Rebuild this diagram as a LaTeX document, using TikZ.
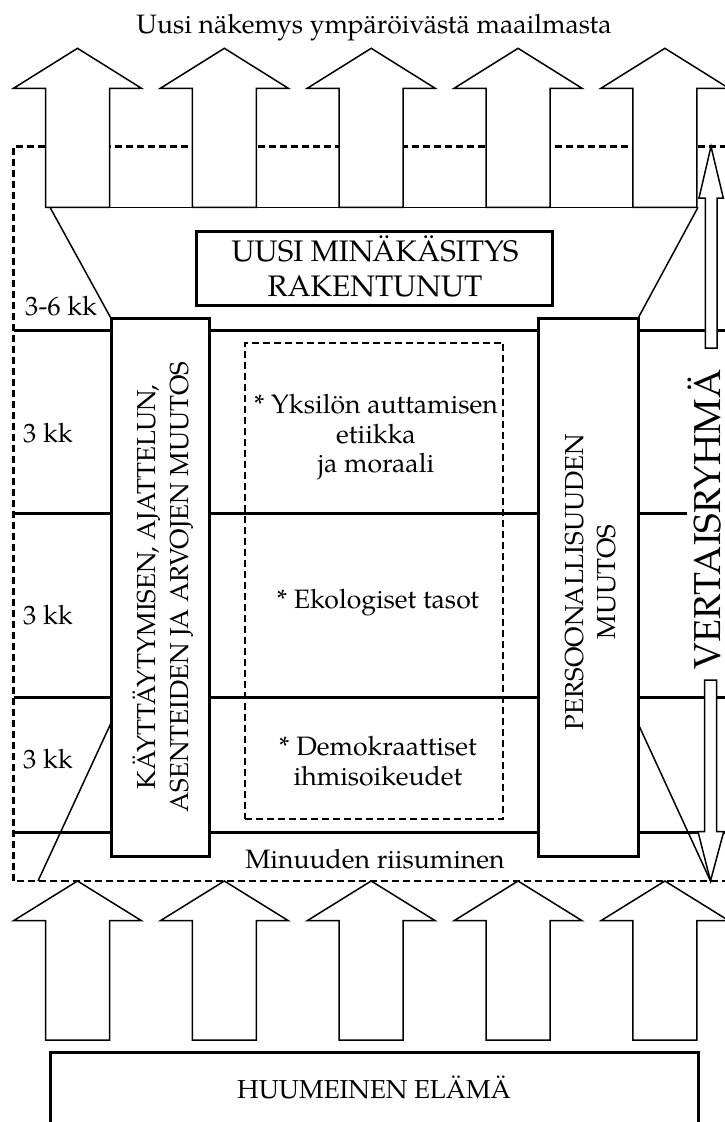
\documentclass[tikz,border=0pt]{standalone}
\usepackage{fontspec}
\IfFontExistsTF{TeX Gyre Pagella}{%
  \setmainfont{TeX Gyre Pagella}%
  \newcommand\szbody{26.6}\newcommand\szcap{26}\newcommand\szbig{29.7}\newcommand\szv{37.5}%
}{%
  \setmainfont{Liberation Serif}%
  \newcommand\szbody{28.5}\newcommand\szcap{27.5}\newcommand\szbig{30.8}\newcommand\szv{37}%
}
\usetikzlibrary{fit}
\tikzset{
  thickln/.style={line width=3pt},
  thinln/.style={line width=1.5pt},
  dashln/.style={line width=2.2pt, dash pattern=on 7pt off 4pt},
  boxst/.style={draw, line width=3pt, fill=white, inner sep=0pt},
  txt/.style={font=\fontsize{\szbody}{31}\selectfont, inner sep=0pt},
  captxt/.style={font=\fontsize{\szcap}{31}\selectfont, inner sep=0pt},
  bigtxt/.style={font=\fontsize{\szbig}{35}\selectfont, inner sep=0pt},
  vtxt/.style={font=\fontsize{\szv}{42}\selectfont, inner sep=0pt},
  bigarrow/.style={thinln, fill=white},
}
\begin{document}
\begin{tikzpicture}[x=1pt,y=-1pt,line join=miter]
\useasboundingbox (0,0) rectangle (725,1122);
\clip (0,0) rectangle (725,1122);

% outer dashed frame
\draw[dashln] (760,146.5) -- (13.5,146.5) -- (13.5,881) -- (760,881);

% time band lines
\draw[thickln] (13.5,330) -- (760,330);
\draw[thickln] (13.5,513.5) -- (687,513.5);
\draw[thickln] (13.5,697) -- (760,697);
\draw[thickln] (13.5,832.5) -- (760,832.5);

% coordinates for funnels
\coordinate (ftl) at (50,207.3);
\coordinate (ftr) at (698,207.3);
\coordinate (lbtl) at (111,318.3);
\coordinate (lbbr) at (209,856.7);
\coordinate (rbtl) at (538.5,318.3);
\coordinate (rbbr) at (638,856.7);
\coordinate (lbl) at (111,723);
\coordinate (rbl) at (638,723.5);
\coordinate (fbl) at (38,881);
\coordinate (fbr) at (710.5,881);

% upper funnel
\draw[thinln] (45,207.3) -- (ftr);
\draw[thinln] (ftl) -- (lbtl);
\draw[thinln] (ftr) -- (rbtl -| rbbr);
% lower funnel
\draw[thinln] (fbl) -- (lbl);
\draw[thinln] (rbl) -- (fbr);

% big arrows
\foreach \i in {0,...,4}{
  \pgfmathsetmacro\cx{77.5+146.85*\i}
  \draw[bigarrow] ({\cx-32},207.3) -- ({\cx-32},88.3) -- ({\cx-64},88.3) -- (\cx,48.3)
     -- ({\cx+64},88.3) -- ({\cx+32},88.3) -- ({\cx+32},207.3) -- cycle;
  \draw[bigarrow] ({\cx-32},1040) -- ({\cx-32},920.7) -- ({\cx-64},920.7) -- (\cx,881)
     -- ({\cx+64},920.7) -- ({\cx+32},920.7) -- ({\cx+32},1040) -- cycle;
}

% columns
\node[boxst, fit=(lbtl)(lbbr)] (lbox) {};
\node[boxst, fit=(rbtl)(rbbr)] (rbox) {};

% inner dashed box
\coordinate (itl) at (245,342.7);
\coordinate (ibr) at (503,819.3);
\node[draw, dashln, inner sep=0pt, fit=(itl)(ibr)] (inner) {};

% top box
\coordinate (ttl) at (196.7,231.7);
\coordinate (tbr) at (552,305);
\node[boxst, fit=(ttl)(tbr)] (top) {};
\node[bigtxt, anchor=base] (top1) at (375,261.7) {UUSI MINÄKÄSITYS};
\node[bigtxt, anchor=base] (top2) at (375,296.7) {RAKENTUNUT};

% bottom box
\coordinate (btl) at (50,1052.7);
\coordinate (bbr) at (698,1170);
\node[boxst, fit=(btl)(bbr)] (bottom) {};
\node[captxt, anchor=base] (bottomtxt) at (374,1098) {HUUMEINEN ELÄMÄ};

% title
\node[txt, anchor=base] (title) at (374,33.5) {Uusi näkemys ympäröivästä maailmasta};

% left labels
\node[txt, anchor=base west] (t36) at (25,315) {3-6 kk};
\node[txt, anchor=base west] (t3a) at (23,442) {3 kk};
\node[txt, anchor=base west] (t3b) at (23,624) {3 kk};
\node[txt, anchor=base west] (t3c) at (23,768.5) {3 kk};

% column texts
\node[captxt, rotate=90, anchor=base] (l1) at (155.7,587) {KÄYTTÄYTYMISEN, AJATTELUN,};
\node[captxt, rotate=90, anchor=base] (l2) at (188.3,587) {ASENTEIDEN JA ARVOJEN MUUTOS};
\node[captxt, rotate=90, anchor=base] (r1) at (583.3,582) {PERSOONALLISUUDEN};
\node[captxt, rotate=90, anchor=base] (r2) at (615,582) {MUUTOS};

% middle texts
\node[txt, anchor=base] (m1) at (376,413.3) {* Yksilön auttamisen};
\node[txt, anchor=base] (m2) at (376,443) {etiikka};
\node[txt, anchor=base] (m3) at (376,472) {ja moraali};
\node[txt, anchor=base] (m4) at (378,608.3) {* Ekologiset tasot};
\node[txt, anchor=base] (m5) at (378,755) {* Demokraattiset};
\node[txt, anchor=base] (m6) at (378,785.7) {ihmisoikeudet};
\node[txt, anchor=base] (m7) at (375,868) {Minuuden riisuminen};

% peer group double arrow
\draw[bigarrow] (705.3,348) -- (705.3,198) -- (699,198) -- (711,146.5) -- (723.3,198) -- (717,198) -- (717,348) -- cycle;
\draw[bigarrow] (704.5,680) -- (704.5,831.7) -- (698,831.7) -- (fbr) -- (723.7,831.7) -- (716.5,831.7) -- (716.5,680) -- cycle;
\node[vtxt, rotate=90, anchor=base] (vr) at (720,519.5) {VERTAISRYHMÄ};
\end{tikzpicture}
\end{document}
